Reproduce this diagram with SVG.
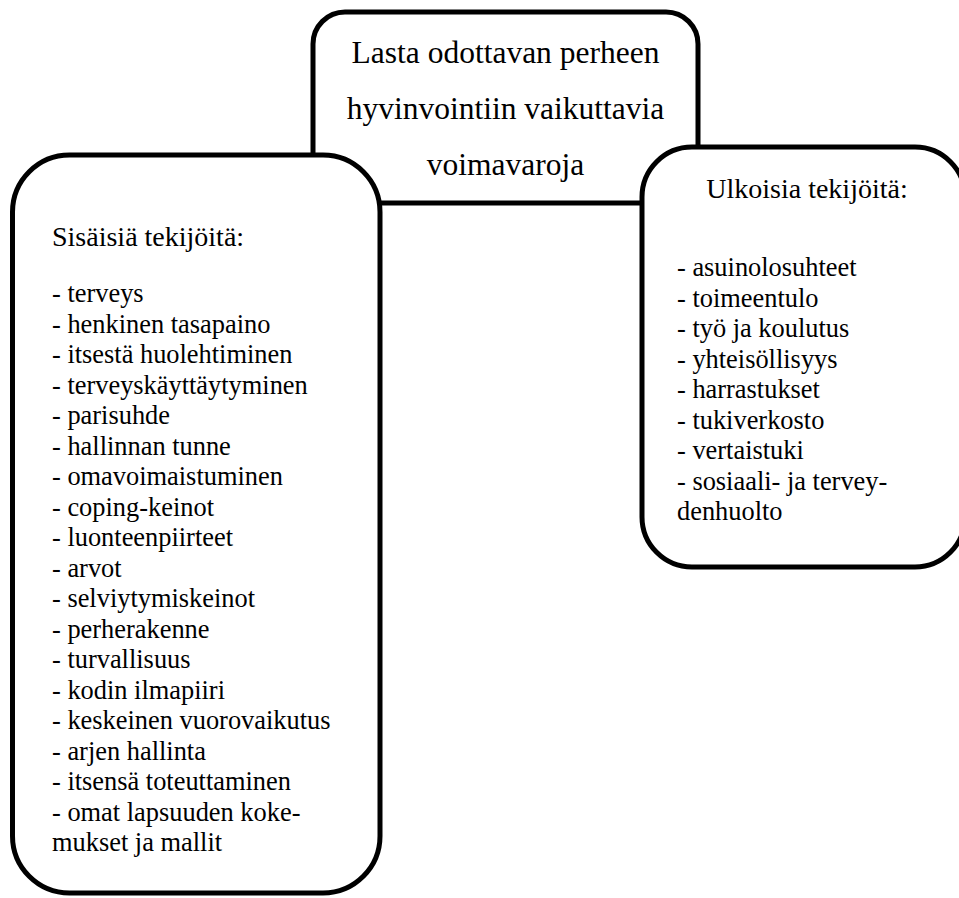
<svg xmlns="http://www.w3.org/2000/svg" width="959" height="898" viewBox="0 0 959 898">
<style>
.box{fill:#fff;stroke:#000;stroke-width:5}
text{font-family:"Liberation Serif","Times New Roman",serif;fill:#000}
.title{font-size:31.5px;text-anchor:middle}
.head{font-size:28px}
.item{font-size:26.4px}
</style>
<rect width="959" height="898" fill="#fff"/>
<g id="center">
<rect class="box" x="313" y="12" width="385" height="191" rx="32" ry="32"/>
<text class="title" x="505.5" y="63">Lasta odottavan perheen</text>
<text class="title" x="505.5" y="119">hyvinvointiin vaikuttavia</text>
<text class="title" x="505.5" y="175">voimavaroja</text>
</g>
<g id="connectors"></g>
<g id="left">
<rect class="box" x="12.5" y="155" width="367.5" height="738" rx="57" ry="57"/>
<text class="head" x="52" y="246">Sisäisiä tekijöitä:</text>
<text class="item" x="52" y="302">- terveys</text>
<text class="item" x="52" y="332.5">- henkinen tasapaino</text>
<text class="item" x="52" y="363">- itsestä huolehtiminen</text>
<text class="item" x="52" y="393.5">- terveyskäyttäytyminen</text>
<text class="item" x="52" y="424">- parisuhde</text>
<text class="item" x="52" y="454.5">- hallinnan tunne</text>
<text class="item" x="52" y="485">- omavoimaistuminen</text>
<text class="item" x="52" y="515.5">- coping-keinot</text>
<text class="item" x="52" y="546">- luonteenpiirteet</text>
<text class="item" x="52" y="576.5">- arvot</text>
<text class="item" x="52" y="607">- selviytymiskeinot</text>
<text class="item" x="52" y="637.5">- perherakenne</text>
<text class="item" x="52" y="668">- turvallisuus</text>
<text class="item" x="52" y="698.5">- kodin ilmapiiri</text>
<text class="item" x="52" y="729">- keskeinen vuorovaikutus</text>
<text class="item" x="52" y="759.5">- arjen hallinta</text>
<text class="item" x="52" y="790">- itsensä toteuttaminen</text>
<text class="item" x="52" y="820.5">- omat lapsuuden koke-</text>
<text class="item" x="52" y="851">mukset ja mallit</text>
</g>
<g id="right">
<rect class="box" x="642" y="147" width="323" height="420" rx="50" ry="50"/>
<text class="head" x="807" y="198" text-anchor="middle">Ulkoisia tekijöitä:</text>
<text class="item" x="677" y="276">- asuinolosuhteet</text>
<text class="item" x="677" y="306.5">- toimeentulo</text>
<text class="item" x="677" y="337">- työ ja koulutus</text>
<text class="item" x="677" y="367.5">- yhteisöllisyys</text>
<text class="item" x="677" y="398">- harrastukset</text>
<text class="item" x="677" y="428.5">- tukiverkosto</text>
<text class="item" x="677" y="459">- vertaistuki</text>
<text class="item" x="677" y="489.5">- sosiaali- ja tervey-</text>
<text class="item" x="677" y="520">denhuolto</text>
</g>
</svg>
